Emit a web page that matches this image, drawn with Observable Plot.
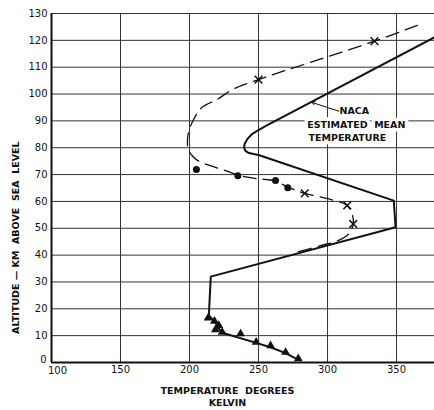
<!DOCTYPE html>
<html>
<head>
<meta charset="utf-8">
<script src="https://cdn.jsdelivr.net/npm/d3@7"></script>
<script src="https://cdn.jsdelivr.net/npm/@observablehq/plot@0.6"></script>
<style>
  html, body { margin: 0; padding: 0; background: #fff; }
  #chart svg { display: block; }
</style>
</head>
<body>
<div id="chart"></div>
<script>
// Tick values
const xTicks = [100, 150, 200, 250, 300, 350];
const yTicks = [0, 10, 20, 30, 40, 50, 60, 70, 80, 90, 100, 110, 120, 130];

// NACA estimated mean temperature (solid line), temperature K / altitude km
const nacaTemp = [377, 256, 250, 245.5, 242, 240, 239.5, 240.5, 243, 250, 348, 349.3, 215.4, 214, 218.1, 222.5, 226.1, 248.3, 258.7, 269.6, 278.8];
const nacaAlt  = [121, 88.3, 86.6, 85.2, 83.3, 81.5, 80, 78.8, 78, 77.3, 60.3, 50.4, 32, 17.5, 15.4, 11.7, 10.7, 7.3, 5.7, 3.5, 1.0];

// Triangle observations (lower atmosphere)
const triTemp = [213.5, 218.1, 221.2, 218.8, 223.7, 237, 248.3, 258.7, 269.6, 278.8];
const triAlt  = [16.6, 15.4, 13.8, 12.2, 11.3, 10.7, 7.6, 6.3, 3.8, 1.4];

// Dashed curve (upper atmosphere)
const dashTemp = [365, 334, 250, 232, 220, 209, 202, 199, 198.5, 199, 202, 206, 215, 226, 237, 247, 262, 271, 283.5, 300, 314, 318, 318.6, 315.5, 308, 295, 279];
const dashAlt  = [125.6, 119.7, 105.4, 101.9, 98, 95, 89.5, 85, 82, 79.5, 77, 75.2, 73.3, 71.5, 69.6, 68.6, 67.6, 65.4, 63, 61, 58.5, 55, 51.5, 48, 45.5, 43.5, 41.3];

// Filled circle observations
const dotTemp = [205, 235, 262.3, 271.2];
const dotAlt  = [71.9, 69.6, 67.8, 65.1];

// X-mark observations
const crossTemp = [334, 250, 283.5, 314.3, 318.6];
const crossAlt  = [119.7, 105.4, 63, 58.5, 51.6];

// Annotation
const noteLines = ["NACA", "ESTIMATED  MEAN", "TEMPERATURE"];
const noteTemp = [308.7, 285.3, 286.2];
const noteAlt = [93.6, 88.5, 83.5];
const leader = {x1: 308.2, y1: 93.6, x2: 288.6, y2: 96.9};

const xTitle = "TEMPERATURE  DEGREES";
const xTitle2 = "KELVIN";
const yTitle = "ALTITUDE — KM  ABOVE  SEA  LEVEL";

const toRows = (xs, ys) => xs.map((x, i) => ({t: x, a: ys[i]}));
const naca = toRows(nacaTemp, nacaAlt);
const tri = toRows(triTemp, triAlt);
const dash = toRows(dashTemp, dashAlt);
const dots = toRows(dotTemp, dotAlt);
const crosses = toRows(crossTemp, crossAlt);
const notes = noteLines.map((s, i) => ({s, t: noteTemp[i], a: noteAlt[i]}));

const font = "'DejaVu Sans', sans-serif";
const ink = "#111";
const xMin = xTicks[0], yMin = yTicks[0];

const chart = Plot.plot({
  width: 434,
  height: 410,
  marginLeft: 51,
  marginRight: 0,
  marginTop: 13,
  marginBottom: 48,
  style: {fontFamily: font, fontSize: "10px", color: ink, background: "#fff"},
  x: {domain: [100, 377.5], ticks: xTicks, tickSize: 0, tickPadding: 3, label: null,
      tickFormat: d => d === xMin ? "" : String(d)},
  y: {domain: [0, 130], ticks: yTicks, tickSize: 0, tickPadding: 4, label: null,
      tickFormat: d => d === yMin ? "" : String(d)},
  marks: [
    Plot.ruleX(xTicks.slice(1), {stroke: "#333", strokeWidth: 1}),
    Plot.ruleY(yTicks.slice(1), {stroke: "#333", strokeWidth: 1}),
    Plot.ruleX([100], {stroke: ink, strokeWidth: 2}),
    Plot.ruleY([0], {stroke: ink, strokeWidth: 2}),
    // corner tick labels, offset as in the original
    Plot.text([String(yMin)], {x: [xMin], y: [yMin], dx: -5, dy: -3, textAnchor: "end", fill: ink, fontSize: 10}),
    Plot.text([String(xMin)], {x: [xMin], y: [yMin], dx: 6, dy: 8, textAnchor: "middle", fill: ink, fontSize: 10}),
    Plot.line(dash, {x: "t", y: "a", stroke: ink, strokeWidth: 1.3, strokeDasharray: "13,7", curve: "catmull-rom"}),
    Plot.line(naca, {x: "t", y: "a", stroke: ink, strokeWidth: 2, clip: true}),
    Plot.dot(tri, {x: "t", y: "a", symbol: "triangle", r: 3.3, fill: ink, stroke: "none"}),
    Plot.dot(dots, {x: "t", y: "a", r: 3.5, fill: ink, stroke: "none"}),
    Plot.dot(crosses, {x: "t", y: "a", symbol: "times", r: 3.6, stroke: ink, strokeWidth: 1.5}),
    Plot.text(notes, {x: "t", y: "a", text: "s", textAnchor: "start", fill: ink, stroke: "white", strokeWidth: 7, fontSize: 9.5, fontWeight: "bold", fontFamily: font}),
    Plot.arrow([leader], {x1: "x1", y1: "y1", x2: "x2", y2: "y2", stroke: ink, strokeWidth: 1, headLength: 5, bend: false}),
    Plot.text([xTitle], {x: [227.5], frameAnchor: "bottom", textAnchor: "middle", dy: 31, fill: ink, fontSize: 9.5, fontWeight: "bold", fontFamily: font}),
    Plot.text([xTitle2], {x: [227.5], frameAnchor: "bottom", textAnchor: "middle", dy: 43, fill: ink, fontSize: 9.5, fontWeight: "bold", fontFamily: font}),
    Plot.text([yTitle], {y: [46.5], frameAnchor: "left", textAnchor: "middle", dx: -36, rotate: -90, fill: ink, fontSize: 9.5, fontWeight: "bold", fontFamily: font})
  ]
});
document.getElementById("chart").appendChild(chart);
</script>
</body>
</html>
